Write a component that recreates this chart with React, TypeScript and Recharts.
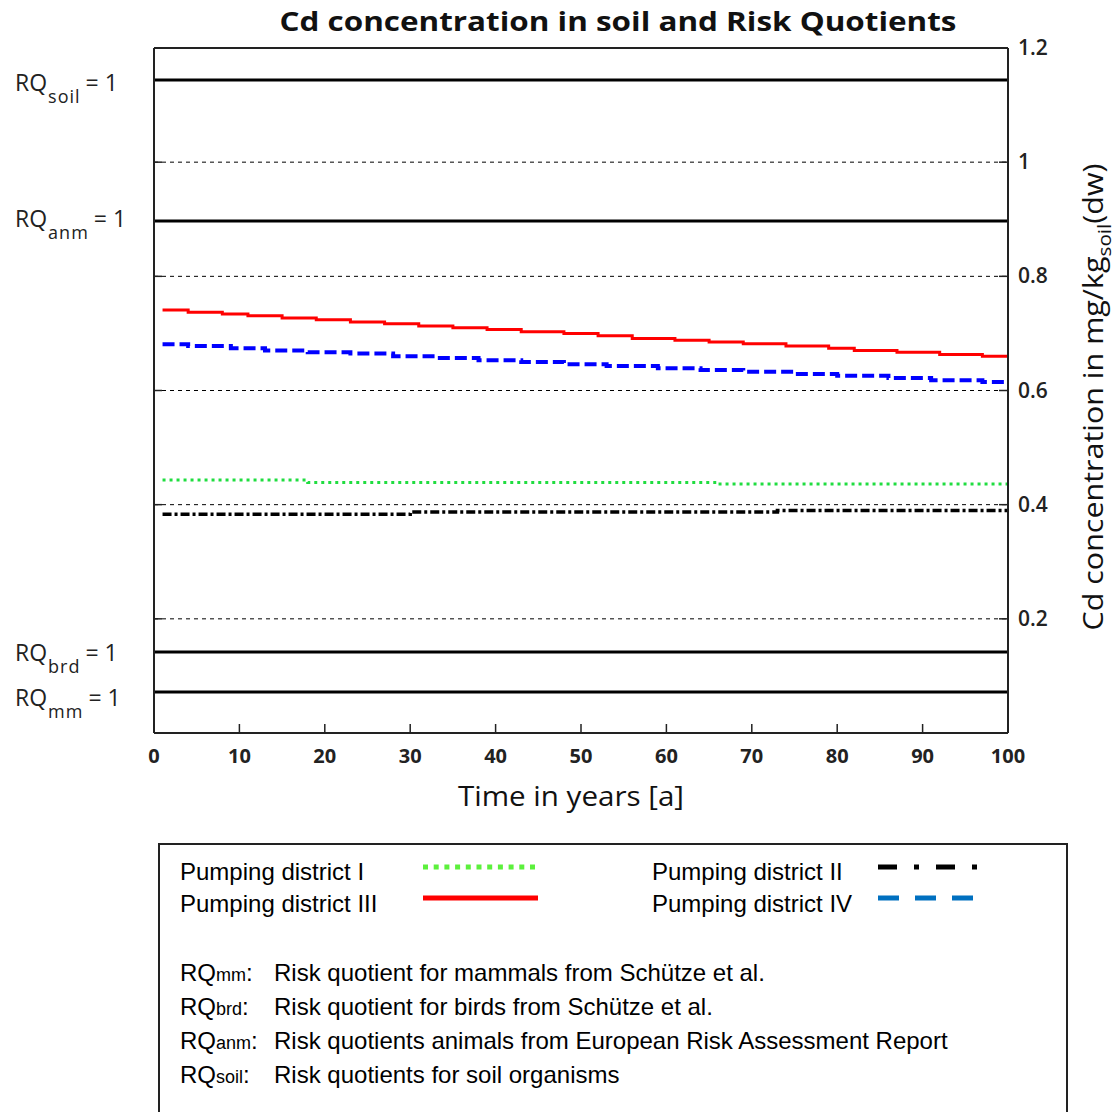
import React from 'react';
import { LineChart, Line, XAxis, YAxis, CartesianGrid, ReferenceLine } from 'recharts';

const yearTicks = [0, 10, 20, 30, 40, 50, 60, 70, 80, 90, 100];
const concTicks = [0.2, 0.4, 0.6, 0.8, 1, 1.2];

const yearsI = [1, 18, 66, 100];
const districtI = [0.443, 0.439, 0.436, 0.436];

const yearsII = [1, 30, 73, 100];
const districtII = [0.383, 0.387, 0.39, 0.39];

const yearsIII = [1, 4, 8, 11, 15, 19, 23, 27, 31, 35, 39, 43, 48, 52, 56, 61, 65, 69, 74, 79, 82, 87, 92, 97, 100];
const districtIII = [
  0.741, 0.737, 0.734, 0.731, 0.727, 0.724, 0.72, 0.717, 0.713, 0.71, 0.707, 0.703, 0.7,
  0.696, 0.691, 0.688, 0.685, 0.682, 0.678, 0.674, 0.67, 0.667, 0.663, 0.66, 0.66,
];

const yearsIV = [1, 4, 9, 13, 18, 23, 28, 33, 38, 43, 48, 53, 59, 64, 69, 75, 80, 86, 91, 97, 100];
const districtIV = [
  0.681, 0.678, 0.674, 0.67, 0.667, 0.665, 0.66, 0.657, 0.653, 0.65, 0.646, 0.643, 0.639,
  0.636, 0.633, 0.629, 0.626, 0.622, 0.618, 0.615, 0.615,
];

// RQ = 1 thresholds, expressed as soil concentration
const rqNames = ['soil', 'anm', 'brd', 'mm'];
const rqLevels = [1.144, 0.897, 0.142, 0.072];
const rqLabelShift = [11, 6, 9, 14];

const rqLegendNames = ['mm', 'brd', 'anm', 'soil'];
const rqLegendTexts = [
  'Risk quotient for mammals from Schütze et al.',
  'Risk quotient for birds from Schütze et al.',
  'Risk quotients animals from European Risk Assessment Report',
  'Risk quotients for soil organisms',
];

const toPoints = (xs: number[], ys: number[]) => xs.map((x, i) => ({ x, y: ys[i] }));

const series = [
  { name: 'Pumping district I', data: toPoints(yearsI, districtI), color: '#20dd40', dash: '3 4', width: 3,
    lgColor: '#5cf03c', lgDash: '5 5.7', lgWidth: 5, lgLen: 113, col: 0, row: 0 },
  { name: 'Pumping district II', data: toPoints(yearsII, districtII), color: '#000', dash: '9 3 3 3', width: 3.5,
    lgColor: '#000', lgDash: '19 17 5 17', lgWidth: 5, lgLen: 100, col: 1, row: 0 },
  { name: 'Pumping district III', data: toPoints(yearsIII, districtIII), color: '#ff0000', dash: undefined, width: 3,
    lgColor: '#ff0000', lgDash: undefined, lgWidth: 5, lgLen: 115, col: 0, row: 1 },
  { name: 'Pumping district IV', data: toPoints(yearsIV, districtIV), color: '#0000ff', dash: '12 5', width: 4,
    lgColor: '#0070c0', lgDash: '21 16', lgWidth: 5, lgLen: 97, col: 1, row: 1 },
];

const tickFont = { fontFamily: 'Open Sans', fontSize: 20, fontWeight: 700, fill: '#222' };

const BottomTick = (props: any) => {
  const { x, y, payload } = props;
  return (
    <g>
      <line x1={x} x2={x} y1={y - 15} y2={y - 24} stroke="#222" strokeWidth={1.5} />
      <text x={x} y={y + 15} textAnchor="middle" {...tickFont}>{payload.value}</text>
    </g>
  );
};

const TopTick = (props: any) => {
  const { x, y } = props;
  return <line x1={x} x2={x} y1={y} y2={y + 9} stroke="#222" strokeWidth={1.5} />;
};

const RightTick = (props: any) => {
  const { x, y, payload } = props;
  return (
    <g>
      <line x1={x - 10} x2={x - 19} y1={y} y2={y} stroke="#222" strokeWidth={1.5} />
      <text x={x} y={y + 7} textAnchor="start" {...tickFont} fontWeight={600} fontSize={21}>{payload.value}</text>
    </g>
  );
};

const LeftTick = (props: any) => {
  const { x, y } = props;
  return <line x1={x} x2={x + 8} y1={y} y2={y} stroke="#222" strokeWidth={1.5} />;
};

const rqLabel = (name: string, shift: number) => (props: any) => {
  const vb = props.viewBox;
  return (
    <text x={15} y={vb.y + shift} fontFamily="Open Sans" fontSize={23} fill="#222">
      RQ
      <tspan fontSize={18} dy={12} dx={1} letterSpacing={1}>{name}</tspan>
      <tspan dy={-12} dx={5}>= 1</tspan>
    </text>
  );
};

export default function App() {
  return (
    <div style={{ position: 'absolute', left: 0, top: 0, width: 1117, height: 1112, overflow: 'hidden', background: '#fff' }}>
      <LineChart
        width={1117}
        height={840}
        margin={{ top: 47, right: 49, bottom: 67, left: 153 }}
        style={{ fontFamily: 'Open Sans' }}
      >
        <CartesianGrid xAxisId="bottom" yAxisId="right" vertical={false} stroke="#000" strokeDasharray="4 4" />
        <XAxis xAxisId="bottom" dataKey="x" type="number" domain={[0, 100]} ticks={yearTicks} interval={0}
          height={40} tickSize={0} tickMargin={15} tickLine={false} tick={<BottomTick />}
          axisLine={{ stroke: '#222', strokeWidth: 2 }} allowDuplicatedCategory={false} />
        <XAxis xAxisId="top" orientation="top" type="number" domain={[0, 100]} ticks={yearTicks} interval={0}
          height={1} tickSize={0} tickMargin={0} tickLine={false} tick={<TopTick />}
          axisLine={{ stroke: '#222', strokeWidth: 2 }} allowDataOverflow />
        <YAxis yAxisId="right" orientation="right" type="number" domain={[0, 1.2]} ticks={concTicks} interval={0}
          width={60} tickSize={0} tickMargin={10} tickLine={false} tick={<RightTick />}
          axisLine={{ stroke: '#222', strokeWidth: 2 }} />
        <YAxis yAxisId="left" orientation="left" type="number" domain={[0, 1.2]} ticks={concTicks} interval={0}
          width={1} tickSize={0} tickMargin={0} tickLine={false} tick={<LeftTick />}
          axisLine={{ stroke: '#222', strokeWidth: 2 }} allowDataOverflow />
        {rqLevels.map((v, i) => (
          <ReferenceLine key={rqNames[i]} xAxisId="bottom" yAxisId="right" y={v} stroke="#000" strokeWidth={3}
            label={rqLabel(rqNames[i], rqLabelShift[i])} />
        ))}
        {series.map((s) => (
          <Line key={s.name} xAxisId="bottom" yAxisId="right" data={s.data} dataKey="y" type="stepAfter"
            stroke={s.color} strokeWidth={s.width} strokeDasharray={s.dash} dot={false} activeDot={false}
            isAnimationActive={false} />
        ))}
      </LineChart>

      <svg width={1117} height={840} style={{ position: 'absolute', left: 0, top: 0, pointerEvents: 'none' }}>
        <text x={618} y={31} textAnchor="middle" fontFamily="Open Sans" fontSize={27} fontWeight={700} fill="#111"
          textLength={677} lengthAdjust="spacingAndGlyphs">
          Cd concentration in soil and Risk Quotients
        </text>
        <text x={571} y={806} textAnchor="middle" fontFamily="Open Sans" fontSize={28} fill="#111"
          textLength={226} lengthAdjust="spacingAndGlyphs">
          Time in years [a]
        </text>
        <text transform="translate(1103,397) rotate(-90)" textAnchor="middle" fontFamily="Open Sans" fontSize={28}
          fill="#111" textLength={467} lengthAdjust="spacingAndGlyphs">
          Cd concentration in mg/kg
          <tspan fontSize={19} dy={8}>soil</tspan>
          <tspan dy={-8}>(dw)</tspan>
        </text>
      </svg>

      <div style={{ position: 'absolute', left: 158, top: 843, width: 910, height: 300, border: '2px solid #222',
        boxSizing: 'border-box', fontFamily: '"Liberation Sans", Arial, sans-serif', fontSize: 24, color: '#000' }}>
        {series.map((s) => (
          <React.Fragment key={s.name}>
            <div style={{ position: 'absolute', left: 20 + s.col * 472, top: 14 + s.row * 32, lineHeight: '26px', whiteSpace: 'nowrap' }}>
              {s.name}
            </div>
            <svg width={s.lgLen} height={10} style={{ position: 'absolute', left: 263 + s.col * 455, top: 17 + s.row * 31 }}>
              <line x1={0} x2={s.lgLen} y1={5} y2={5} stroke={s.lgColor} strokeWidth={s.lgWidth} strokeDasharray={s.lgDash} />
            </svg>
          </React.Fragment>
        ))}
        {rqLegendNames.map((n, i) => (
          <React.Fragment key={n}>
            <div style={{ position: 'absolute', left: 20, top: 115 + i * 34, lineHeight: '26px', whiteSpace: 'nowrap' }}>
              RQ<span style={{ fontSize: 18 }}>{n}</span>:
            </div>
            <div style={{ position: 'absolute', left: 114, top: 115 + i * 34, lineHeight: '26px', whiteSpace: 'nowrap' }}>
              {rqLegendTexts[i]}
            </div>
          </React.Fragment>
        ))}
      </div>
    </div>
  );
}
